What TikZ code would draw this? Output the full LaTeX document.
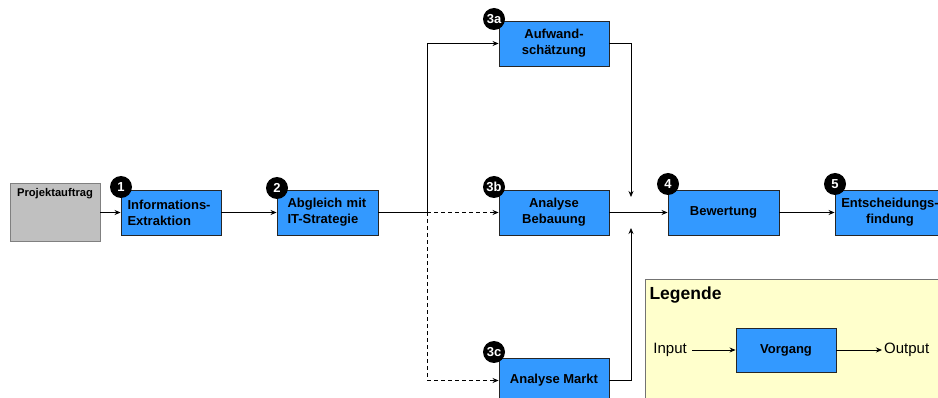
\documentclass[tikz,border=0pt]{standalone}
\usepackage{fontspec}
\setmainfont{Liberation Sans}
\usetikzlibrary{arrows.meta,calc}
\definecolor{boxblue}{HTML}{3399FF}
\definecolor{projgray}{HTML}{C0C0C0}
\definecolor{legfill}{HTML}{FFFFCC}
\tikzset{
  stepbox/.style={draw=black!85, line width=0.9pt, fill=boxblue, minimum height=45pt,
    inner sep=0pt, font=\bfseries\fontsize{13}{16}\selectfont},
  badge/.style={circle, fill=black, text=white, minimum size=22pt, inner sep=0pt,
    font=\bfseries\fontsize{13}{13}\selectfont},
  conn/.style={line width=0.8pt, -{Stealth[length=6pt,width=5pt]}},
  dconn/.style={conn, dashed, dash pattern=on 4pt off 3pt},
}
\begin{document}
\begin{tikzpicture}[x=1pt,y=-1pt]
\useasboundingbox (0,0) rectangle (938,398);
\clip (0,0) rectangle (938,398);
% legend
\node[draw=black!55, fill=legfill, line width=0.9pt, minimum width=310pt, minimum height=135pt, anchor=north west] (leg) at (645,279) {};
\node[anchor=west, font=\bfseries\fontsize{17.5}{17.5}\selectfont] (legt) at (646,295) {Legende};
\node[stepbox, minimum width=100pt, minimum height=44pt] (vg) at (786,350) {Vorgang};
\node[anchor=east, font=\fontsize{15}{15}\selectfont, inner sep=2pt] (inp) at (689,350) {Input};
\node[anchor=west, font=\fontsize{15}{15}\selectfont, inner sep=2pt] (outp) at (882,350) {Output};
\draw[conn] (inp.east) ++(3pt,0) -- (vg.west);
\draw[conn] (vg.east) -- (outp.west);
% process
\node[draw=black!50, fill=projgray, line width=0.9pt, minimum width=90pt, minimum height=58pt, inner sep=0pt] (proj) at (55,212) {};
\node[font=\bfseries\fontsize{11.2}{12}\selectfont, anchor=north] (projt) at (55,185) {Projektauftrag};
\node[stepbox, minimum width=100pt, text width=87pt, align=left] (b1) at (171,212.5) {Informations-\\Extraktion};
\node[stepbox, minimum width=101pt, text width=80pt, align=left] (b2) at (327.5,212.5) {Abgleich mit\\IT-Strategie};
\node[stepbox, minimum width=110pt, align=center] (b3a) at (554,43.5) {Aufwand-\\schätzung};
\node[stepbox, minimum width=110pt, align=center] (b3b) at (554,212.5) {Analyse\\Bebauung};
\node[stepbox, minimum width=110pt, align=center] (b3c) at (554,380.5) {Analyse Markt};
\node[stepbox, minimum width=111pt, align=center] (b4) at (723.5,212.5) {Bewertung};
\node[stepbox, minimum width=110pt, align=center] (b5) at (890,212.5) {Entscheidungs-\\findung};
% badges
\node[badge] (n1) at (121,187) {1};
\node[badge] (n2) at (277,188) {2};
\node[badge] (n3a) at (494,19) {3a};
\node[badge] (n3b) at (494,187) {3b};
\node[badge] (n3c) at (494,352) {3c};
\node[badge] (n4) at (668,184) {4};
\node[badge] (n5) at (835,184) {5};
% connectors
\coordinate (j) at (427,212.5);
\coordinate (m1) at (631,197);
\coordinate (m2) at (631,228);
\draw[conn] (proj.east |- b1.west) -- (b1.west);
\draw[conn] (b1.east) -- (b2.west);
\draw[line width=0.8pt] (b2.east) -- (j);
\draw[conn] (j) |- (b3a.west);
\draw[dconn] (j) -- (b3b.west);
\draw[dconn] (j) |- (b3c.west);
\draw[conn] (b3a.east) -| (m1);
\draw[conn] (b3c.east) -| (m2);
\draw[conn] (b3b.east) -- (b4.west);
\draw[conn] (b4.east) -- (b5.west);
\end{tikzpicture}
\end{document}
